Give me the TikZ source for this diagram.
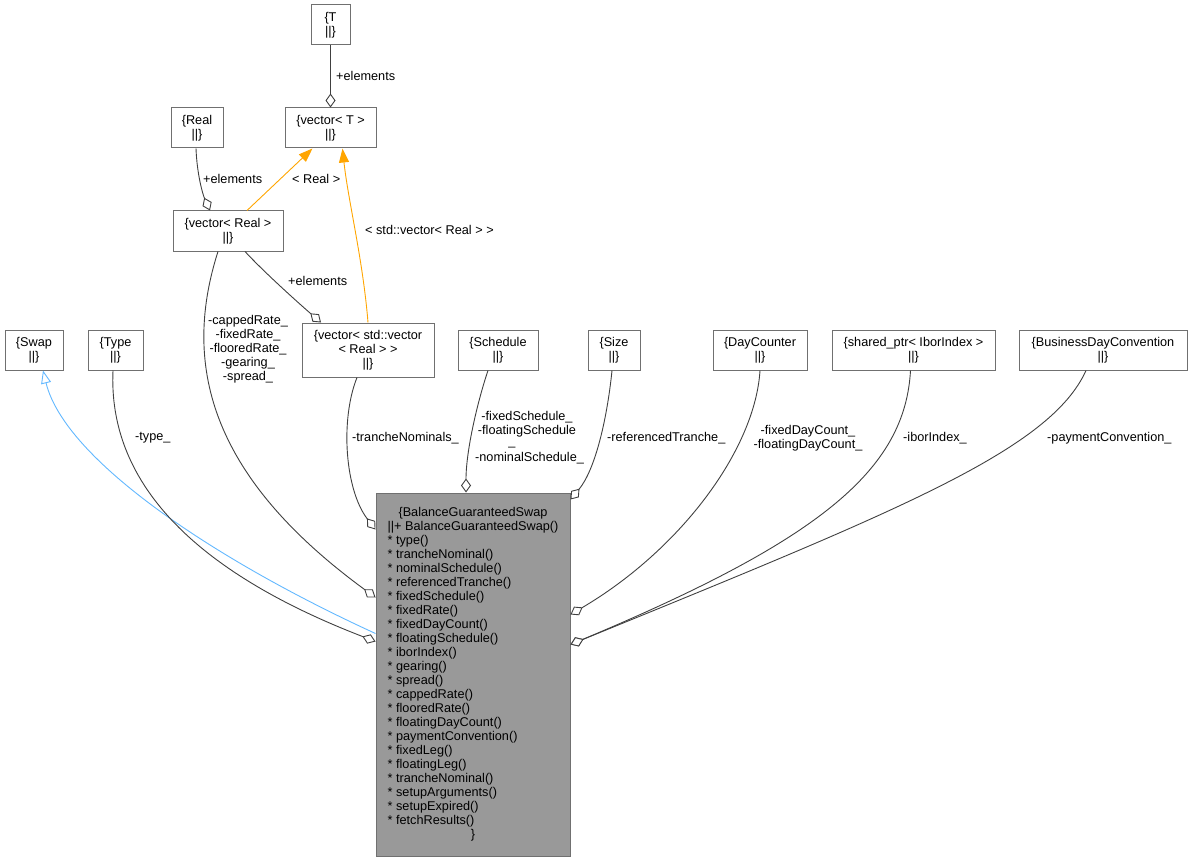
\documentclass[tikz,border=0pt]{standalone}
\usepackage{fontspec}
\setmainfont{Liberation Sans}
\usetikzlibrary{arrows.meta,calc}
\definecolor{edgec}{HTML}{404040}
\definecolor{boxc}{HTML}{707070}
\definecolor{mainfill}{HTML}{999999}
\definecolor{inhblue}{HTML}{63B8FF}
\definecolor{tmplorange}{HTML}{FFA500}
\newcommand{\mitem}[1]{\relax{*} #1}
\begin{document}
\begin{tikzpicture}[x=1pt,y=-1pt,
  every node/.style={font=\fontsize{12.7}{14}\selectfont, inner sep=0pt},
  cls/.style={draw=boxc, line width=1pt, fill=white, minimum height=40pt, align=center},
  agg/.style={draw=edgec, line width=0.9pt, -{Diamond[fill=white,length=14pt,width=10pt]}},
  inh/.style={draw=inhblue, line width=0.9pt, -{Triangle[open,fill=white,length=13pt,width=10pt]}},
  tpl/.style={draw=tmplorange, line width=0.9pt, -{Triangle[length=14pt,width=10pt]}},
  lblw/.style={anchor=west},
  lblc/.style={align=center}]
\useasboundingbox (0,0) rectangle (1191,861);

% class boxes
\node[cls, minimum width=39pt] (T) at (330.5,25) {\{T\\||\}};
\node[cls, minimum width=91pt] (vT) at (330.5,128) {\{vector< T >\\||\}};
\node[cls, minimum width=52pt] (Real) at (197,128) {\{Real\\||\}};
\node[cls, minimum width=110pt] (vR) at (228,231) {\{vector< Real >\\||\}};
\node[cls, minimum width=132pt, minimum height=54pt] (vv) at (368,350) {\{vector< std::vector\\< Real > >\\||\}};
\node[cls, minimum width=58pt] (Swap) at (34,350) {\{Swap\\||\}};
\node[cls, minimum width=55pt] (Type) at (115.5,350) {\{Type\\||\}};
\node[cls, minimum width=80pt] (Schedule) at (498,350) {\{Schedule\\||\}};
\node[cls, minimum width=52pt] (Size) at (614,350) {\{Size\\||\}};
\node[cls, minimum width=94pt] (DayCounter) at (760,350) {\{DayCounter\\||\}};
\node[cls, minimum width=163pt] (shared) at (913.5,350) {\{shared\_ptr< IborIndex >\\||\}};
\node[cls, minimum width=168pt] (BDC) at (1103,350) {\{BusinessDayConvention\\||\}};
\node[cls, fill=mainfill, minimum width=194pt, minimum height=363pt] (main) at (473,674.5) {%
\begin{tabular}{@{}l@{}}
\multicolumn{1}{@{}c@{}}{\{BalanceGuaranteedSwap}\\
||+ BalanceGuaranteedSwap()\\
\mitem{type()}\\
\mitem{trancheNominal()}\\
\mitem{nominalSchedule()}\\
\mitem{referencedTranche()}\\
\mitem{fixedSchedule()}\\
\mitem{fixedRate()}\\
\mitem{fixedDayCount()}\\
\mitem{floatingSchedule()}\\
\mitem{iborIndex()}\\
\mitem{gearing()}\\
\mitem{spread()}\\
\mitem{cappedRate()}\\
\mitem{flooredRate()}\\
\mitem{floatingDayCount()}\\
\mitem{paymentConvention()}\\
\mitem{fixedLeg()}\\
\mitem{floatingLeg()}\\
\mitem{trancheNominal()}\\
\mitem{setupArguments()}\\
\mitem{setupExpired()}\\
\mitem{fetchResults()}\\
\multicolumn{1}{@{}c@{}}{\}}
\end{tabular}};

% connectors
\draw[agg] (T.south) -- (vT.north);
\node[lblw] (lT) at (336,76) {+elements};

\draw[agg] ($(Real.south)+(-1,0)$) .. controls (197,175) and (203,195) .. ($(vR.north)+(-18,0)$);
\node[lblw] (lReal) at (203,179) {+elements};

\draw[tpl] ($(vR.north)+(19,0)$) -- ($(vT.south)+(-18,0)$);
\node[lblw] (lRealT) at (292,179) {< Real >};

\draw[tpl] (vv.north) .. controls (363,260) and (348,200) .. ($(vT.south)+(12,0)$);
\node[lblw] (lvvT) at (365,230) {< std::vector< Real > >};

\draw[agg] ($(vR.south)+(17,0)$) .. controls (262,270) and (295,300) .. ($(vv.north)+(-47,0)$);
\node[lblw] (lRvv) at (288,281) {+elements};

\draw[agg] ($(vR.south)+(-10,0)$) .. controls (180,370) and (215,480) .. ($(main.north west)+(0,105)$);
\node[lblc] (lRmain) at (248,349) {-cappedRate\_\\-fixedRate\_\\-flooredRate\_\\-gearing\_\\-spread\_};

\draw[agg] ($(vv.south)+(-11,0)$) .. controls (340,420) and (345,490) .. ($(main.north west)+(0,37)$);
\node[lblw] (lvv) at (352,438) {-trancheNominals\_};

\draw[inh] ($(main.north west)+(0,141)$) .. controls (215,560) and (65,460) .. ($(Swap.south)+(9,0)$);

\draw[agg] ($(Type.south)+(-2.5,0)$) .. controls (108,480) and (190,570) .. ($(main.north west)+(0,149)$);
\node[lblw] (lType) at (135,438) {-type\_};

\draw[agg] ($(Schedule.south)+(-10,0)$) .. controls (478,400) and (466,450) .. ($(main.north)+(-7,0)$);
\node[lblc] (lSch) at (527,424) {-fixedSchedule\_\\-floatingSchedule};
\node (lSchU) at (512,447) {\_};
\node[lblw] (lSchN) at (475,458) {-nominalSchedule\_};

\draw[agg] ($(Size.south)+(-2,0)$) .. controls (607,420) and (595,470) .. ($(main.north east)+(0,7)$);
\node[lblw] (lSize) at (607,438) {-referencedTranche\_};

\draw[agg] (DayCounter.south) .. controls (755,450) and (680,550) .. ($(main.north east)+(0,122)$);
\node[lblc] (lDC) at (808,438.5) {-fixedDayCount\_\\-floatingDayCount\_};

\draw[agg] ($(shared.south)+(-3,0)$) .. controls (905,470) and (820,540) .. ($(main.north east)+(0,152)$);
\node[lblw] (lIbor) at (903,438) {-iborIndex\_};

\draw[agg] ($(BDC.south)+(-17,0)$) .. controls (1050,450) and (900,510) .. ($(main.north east)+(0,152)$);
\node[lblw] (lBDC) at (1047,438) {-paymentConvention\_};
\end{tikzpicture}
\end{document}
